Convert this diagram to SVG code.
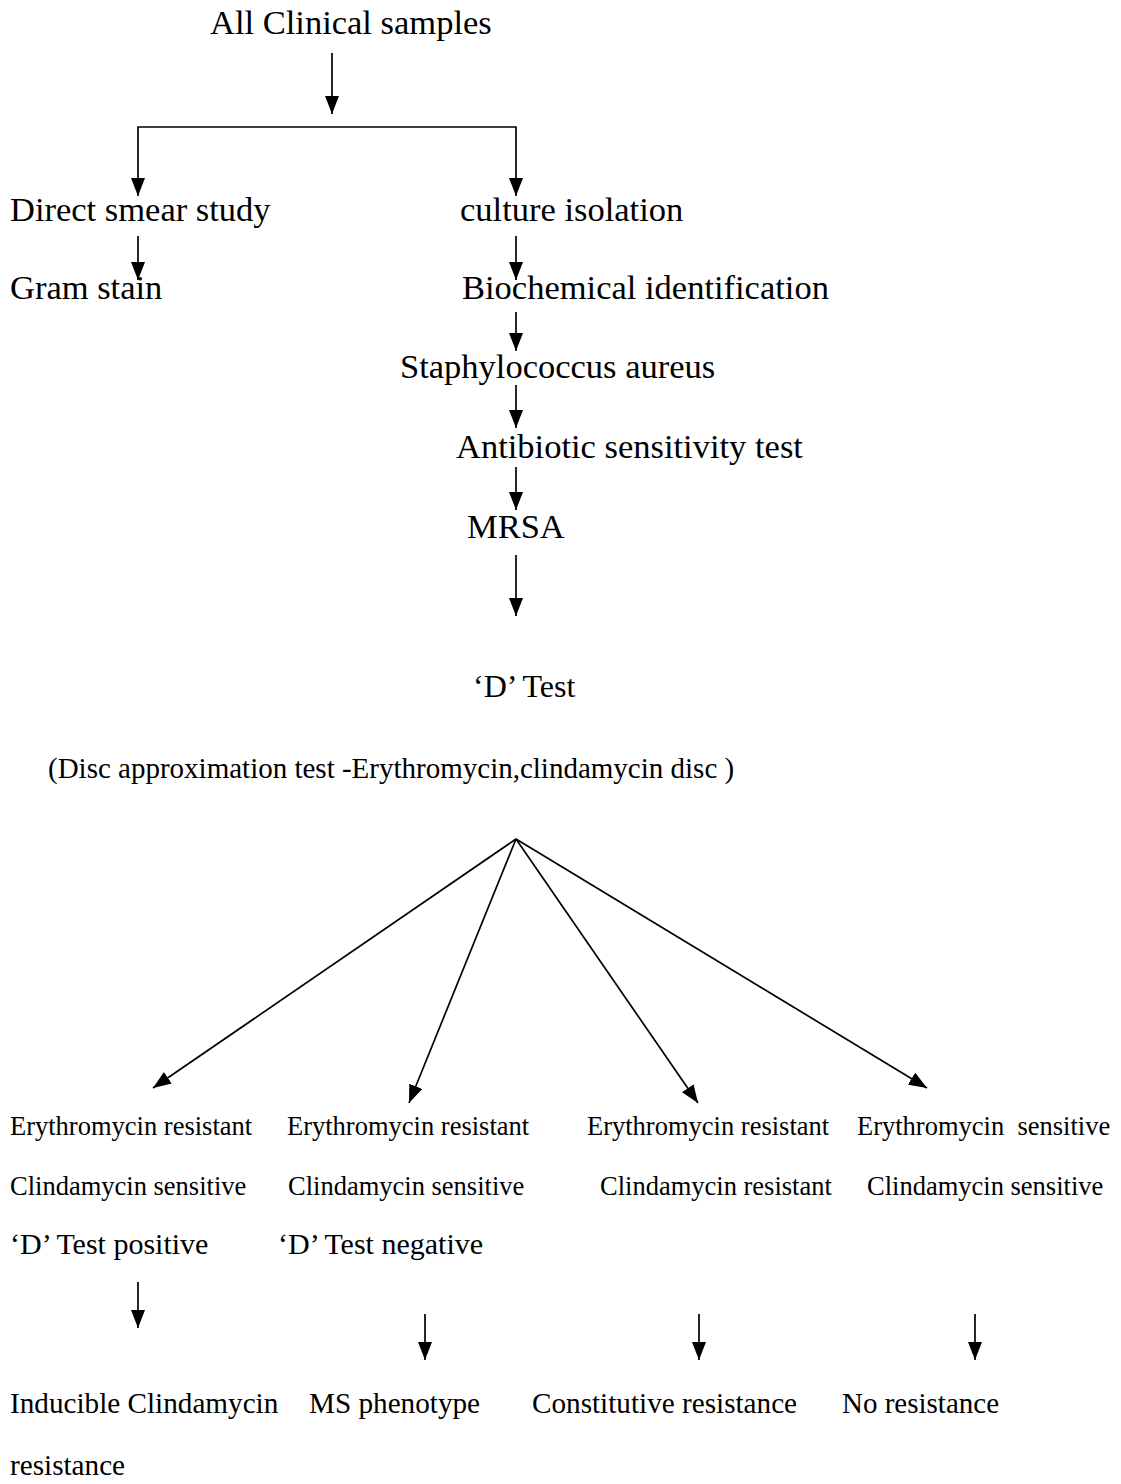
<svg xmlns="http://www.w3.org/2000/svg" width="1121" height="1484" viewBox="0 0 1121 1484">
<style>
text{font-family:"Liberation Serif","Times New Roman",serif;fill:#000}
.b{font-size:34.5px}
.d{font-size:32px}
.p{font-size:29px}
.s{font-size:26.5px}
.t{font-size:30px}
.m{font-size:29.2px}
.c{stroke:#000;stroke-width:1.7;fill:none}
</style>
<defs>
<marker id="ah" markerUnits="userSpaceOnUse" markerWidth="18" markerHeight="14" refX="18" refY="7" orient="auto">
<path d="M0,0 L18,7 L0,14 z" fill="#000"/>
</marker>
</defs>
<rect width="1121" height="1484" fill="#fff"/>
<g id="connectors">
<line class="c" x1="332" y1="53" x2="332" y2="114" marker-end="url(#ah)"/>
<path class="c" d="M138,150 V127 H516 V150"/>
<line class="c" x1="138" y1="150" x2="138" y2="196" marker-end="url(#ah)"/>
<line class="c" x1="516" y1="150" x2="516" y2="196" marker-end="url(#ah)"/>
<line class="c" x1="138" y1="236" x2="138" y2="280" marker-end="url(#ah)"/>
<line class="c" x1="516" y1="236" x2="516" y2="280" marker-end="url(#ah)"/>
<line class="c" x1="516" y1="312" x2="516" y2="351" marker-end="url(#ah)"/>
<line class="c" x1="516" y1="385" x2="516" y2="428" marker-end="url(#ah)"/>
<line class="c" x1="516" y1="467" x2="516" y2="510" marker-end="url(#ah)"/>
<line class="c" x1="516" y1="555" x2="516" y2="616" marker-end="url(#ah)"/>
<line class="c" x1="516" y1="839" x2="153" y2="1088" marker-end="url(#ah)"/>
<line class="c" x1="516" y1="839" x2="409" y2="1103" marker-end="url(#ah)"/>
<line class="c" x1="516" y1="839" x2="698" y2="1103" marker-end="url(#ah)"/>
<line class="c" x1="516" y1="839" x2="927" y2="1088" marker-end="url(#ah)"/>
<line class="c" x1="138" y1="1282" x2="138" y2="1328" marker-end="url(#ah)"/>
<line class="c" x1="425" y1="1314" x2="425" y2="1360" marker-end="url(#ah)"/>
<line class="c" x1="699" y1="1314" x2="699" y2="1360" marker-end="url(#ah)"/>
<line class="c" x1="975" y1="1314" x2="975" y2="1360" marker-end="url(#ah)"/>
</g>
<g id="n-all"><text class="b" x="210" y="34">All Clinical samples</text></g>
<g id="n-direct"><text class="b" x="10" y="221">Direct smear study</text></g>
<g id="n-culture"><text class="b" x="460" y="221">culture isolation</text></g>
<g id="n-gram"><text class="b" x="10" y="299">Gram stain</text></g>
<g id="n-biochem"><text class="b" x="462" y="299">Biochemical identification</text></g>
<g id="n-staph"><text class="b" x="400" y="378">Staphylococcus aureus</text></g>
<g id="n-ast"><text class="b" x="456" y="458">Antibiotic sensitivity test</text></g>
<g id="n-mrsa"><text class="b" x="467" y="538">MRSA</text></g>
<g id="n-dtest"><text class="d" x="473" y="697">‘D’ Test</text></g>
<g id="n-disc"><text class="p" x="48" y="778">(Disc approximation test -Erythromycin,clindamycin disc )</text></g>
<g id="n-r1">
<text class="s" x="10" y="1135">Erythromycin resistant</text>
<text class="s" x="10" y="1195">Clindamycin sensitive</text>
<text class="t" x="10" y="1254">‘D’ Test positive</text>
</g>
<g id="n-r2">
<text class="s" x="287" y="1135">Erythromycin resistant</text>
<text class="s" x="288" y="1195">Clindamycin sensitive</text>
<text class="t" x="278" y="1254">‘D’ Test negative</text>
</g>
<g id="n-r3">
<text class="s" x="587" y="1135">Erythromycin resistant</text>
<text class="s" x="600" y="1195">Clindamycin resistant</text>
</g>
<g id="n-r4">
<text class="s" x="857" y="1135" xml:space="preserve">Erythromycin  sensitive</text>
<text class="s" x="867" y="1195">Clindamycin sensitive</text>
</g>
<g id="n-icr">
<text class="m" x="10" y="1413">Inducible Clindamycin</text>
<text class="m" x="10" y="1475">resistance</text>
</g>
<g id="n-ms"><text class="m" x="309" y="1413">MS phenotype</text></g>
<g id="n-const"><text class="m" x="532" y="1413">Constitutive resistance</text></g>
<g id="n-nores"><text class="p" x="842" y="1413">No resistance</text></g>
</svg>
